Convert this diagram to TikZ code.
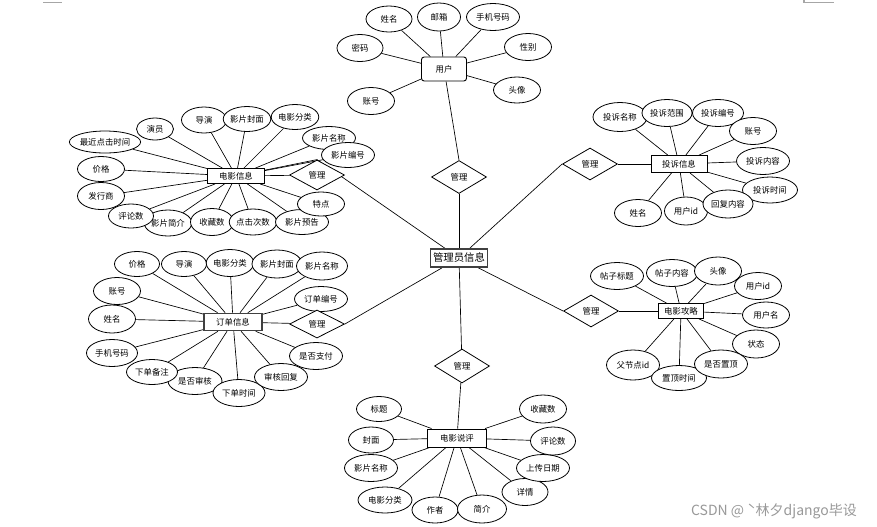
\documentclass[tikz,border=0pt]{standalone}
\usepackage{fontspec}
\setmainfont{Noto Sans CJK SC}
\usetikzlibrary{shapes.geometric}
\pgfdeclarelayer{bg}
\pgfdeclarelayer{edges}
\pgfsetlayers{bg,edges,main}
\tikzset{
  attr/.style={ellipse, draw=black, line width=0.6pt, fill=white, inner sep=0pt, font=\fontsize{6.3}{7}\selectfont},
  ent/.style={rectangle, draw=black, line width=0.7pt, fill=white, inner sep=0pt, font=\fontsize{6.3}{7}\selectfont},
  bold ent/.style={ent, draw=black!75, line width=1.2pt},
  rel/.style={diamond, draw=black, line width=0.6pt, fill=white, inner sep=0pt, font=\fontsize{6.3}{7}\selectfont},
  link/.style={draw=black, line width=0.5pt},
  mark line/.style={draw=black!35, line width=0.8pt},
}
\newcommand\ERA[5]{\node[attr, minimum width=#4*0.75pt, minimum height=#5*0.75pt] (#1) at (#2) {#3};}
\newcommand\ERR[5]{\node[rel, minimum width=#4*0.75pt, minimum height=#5*0.75pt] (#1) at (#2) {#3};}
\newcommand\ERE[6][ent]{\node[#1, minimum width=#5*0.75pt, minimum height=#6*0.75pt] (#2) at (#3) {#4};}
\begin{document}
\begin{tikzpicture}[x=0.75pt,y=-0.75pt]
\begin{pgfonlayer}{bg}
  \fill[white] (0,0) rectangle (877,526);
  \useasboundingbox (0,0) rectangle (877,526);
  \coordinate (tl1) at (43,2.5); \coordinate (tl2) at (62,2.5);
  \coordinate (tr0) at (804,0); \coordinate (tr1) at (804,2.5); \coordinate (tr2) at (834,2.5);
  \draw[mark line] (tl1) -- (tl2);
  \draw[mark line] (tr0) -- (tr1) -- (tr2);
\end{pgfonlayer}

% ---------- centre ----------
\node[bold ent, minimum width=57*0.75pt, minimum height=18*0.75pt, font=\fontsize{7.8}{9}\selectfont] (admin) at (459,258) {管理员信息};

% ---------- user ----------
\ERE[ent, rounded corners=2pt]{user}{444,69}{用户}{45}{24}
\ERA{u1}{389,19}{姓名}{46}{26}
\ERA{u2}{439,17}{邮箱}{43}{28}
\ERA{u3}{493,17}{手机号码}{53}{27}
\ERA{u4}{360,48}{密码}{46}{27}
\ERA{u5}{528,47}{性别}{47}{27}
\ERA{u6}{517,90}{头像}{47}{26}
\ERA{u7}{371,101}{账号}{47}{27}
\ERR{m0}{459,177}{管理}{55}{33}

% ---------- movie info ----------
\ERE{movie}{236,176}{电影信息}{57}{15}
\ERA{a1}{105,142}{最近点击时间}{61}{22}
\ERA{a2}{155,129}{演员}{37}{22}
\ERA{a3}{204,120}{导演}{45}{26}
\ERA{a4}{247,119}{影片封面}{45}{25}
\ERA{a5}{295,117}{电影分类}{45}{25}
\ERA{a6}{329,138}{影片名称}{53}{23}
\ERA{a7}{348,155}{影片编号}{53}{25}
\ERA{a15}{101,169}{价格}{47}{25}
\ERA{a14}{101,196}{发行商}{47}{27}
\ERA{a12}{168,223}{影片简介}{46}{26}
\ERA{a13}{131,216}{评论数}{45}{24}
\ERA{a11}{212,222}{收藏数}{43}{27}
\ERA{a10}{253,222}{点击次数}{42}{26}
\ERA{a9}{302,222}{影片预告}{53}{25}
\ERA{a8}{321,204}{特点}{47}{24}
\ERR{m1}{317,175}{管理}{55}{30}

% ---------- order ----------
\ERE[bold ent]{order}{233,322}{订单信息}{58}{17}
\ERA{o1}{137,264}{价格}{45}{25}
\ERA{o2}{184,264}{导演}{45}{25}
\ERA{o3}{230,263}{电影分类}{46}{27}
\ERA{o4}{277,264}{影片封面}{50}{28}
\ERA{o5}{322,266}{影片名称}{51}{28}
\ERA{o6}{321,299}{订单编号}{53}{25}
\ERA{o14}{117,291}{账号}{47}{27}
\ERA{o13}{112,319}{姓名}{47}{28}
\ERA{o12}{112,353}{手机号码}{51}{27}
\ERA{o10}{195,381}{是否审核}{54}{27}
\ERA{o11}{152,372}{下单备注}{51}{25}
\ERA{o9}{239,393}{下单时间}{52}{27}
\ERA{o8}{281,377}{审核回复}{53}{27}
\ERA{o7}{316,356}{是否支付}{53}{27}
\ERR{m2}{317,324}{管理}{55}{28}

% ---------- complaint ----------
\ERE{comp}{679,164}{投诉信息}{56}{17}
\ERA{c1}{620,117}{投诉名称}{54}{29}
\ERA{c2}{667,113}{投诉范围}{50}{27}
\ERA{c3}{718,113}{投诉编号}{51}{27}
\ERA{c4}{753,131}{账号}{47}{27}
\ERA{c5}{763,161}{投诉内容}{53}{27}
\ERA{c6}{770,190}{投诉时间}{55}{26}
\ERA{c8}{686,211}{用户id}{43}{28}
\ERA{c7}{728,204}{回复内容}{50}{28}
\ERA{c9}{638,213}{姓名}{47}{27}
\ERR{m3}{590,164}{管理}{55}{32}

% ---------- strategy ----------
\ERE{strat}{681,311}{电影攻略}{45}{15}
\ERA{s1}{617,276}{帖子标题}{53}{27}
\ERA{s2}{672,273}{帖子内容}{51}{27}
\ERA{s3}{718,271}{头像}{47}{28}
\ERA{s4}{758,286}{用户id}{47}{27}
\ERA{s5}{766,315}{用户名}{47}{26}
\ERA{s6}{756,344}{状态}{47}{28}
\ERA{s9}{633,365}{父节点id}{53}{30}
\ERA{s8}{679,378}{置顶时间}{55}{25}
\ERA{s7}{721,364}{是否置顶}{53}{28}
\ERR{m4}{591,311}{管理}{55}{32}

% ---------- review ----------
\ERE{review}{457,438}{电影说评}{59}{18}
\ERR{m5}{462,366}{管理}{55}{34}
\ERA{r1}{379,409}{标题}{45}{25}
\ERA{r2}{371,440}{封面}{45}{26}
\ERA{r3}{371,468}{影片名称}{53}{27}
\ERA{r4}{385,500}{电影分类}{54}{26}
\ERA{r5}{435,510}{作者}{46}{26}
\ERA{r6}{482,509}{简介}{49}{28}
\ERA{r7}{525,492}{详情}{46}{27}
\ERA{r8}{543,468}{上传日期}{53}{27}
\ERA{r9}{553,441}{评论数}{45}{28}
\ERA{r10}{543,409}{收藏数}{47}{28}

% ---------- watermark ----------
\node[font=\fontsize{10.5}{12}\selectfont, text=black!40, inner sep=0pt] (wm) at (774,511) {CSDN @ ˋ林夕django毕设};

% ---------- connectors ----------
\begin{pgfonlayer}{edges}
  \foreach \n in {u1,u2,u3,u4,u5,u6,u7} \draw[link] (user) -- (\n);
  \draw[link] (user) -- (m0.north);
  \draw[link] (m0) -- (admin);

  \foreach \n in {a1,a2,a3,a4,a5,a6,a7,a8,a9,a10,a11,a12,a13,a14,a15} \draw[link] (movie) -- (\n);
  \draw[link] (movie) -- (m1);
  \draw[link] (movie) -- (m1.north);
  \draw[link] (m1.north) -- (admin);

  \foreach \n in {o1,o2,o3,o4,o5,o6,o7,o8,o9,o10,o11,o12,o13,o14} \draw[link] (order) -- (\n);
  \draw[link] (order) -- (m2);
  \draw[link] (m2.east) -- (admin);

  \foreach \n in {c1,c2,c3,c4,c5,c6,c7,c8,c9} \draw[link] (comp) -- (\n);
  \draw[link] (comp) -- (m3);
  \draw[link] (m3.west) -- (admin);

  \foreach \n in {s1,s2,s3,s4,s5,s6,s7,s8,s9} \draw[link] (strat) -- (\n);
  \draw[link] (strat) -- (m4);
  \draw[link] (m4.west) -- (admin);

  \foreach \n in {r1,r2,r3,r4,r5,r6,r7,r8,r9,r10} \draw[link] (review) -- (\n);
  \draw[link] (admin) -- (m5);
  \draw[link] (m5) -- (review);
\end{pgfonlayer}
\end{tikzpicture}
\end{document}
